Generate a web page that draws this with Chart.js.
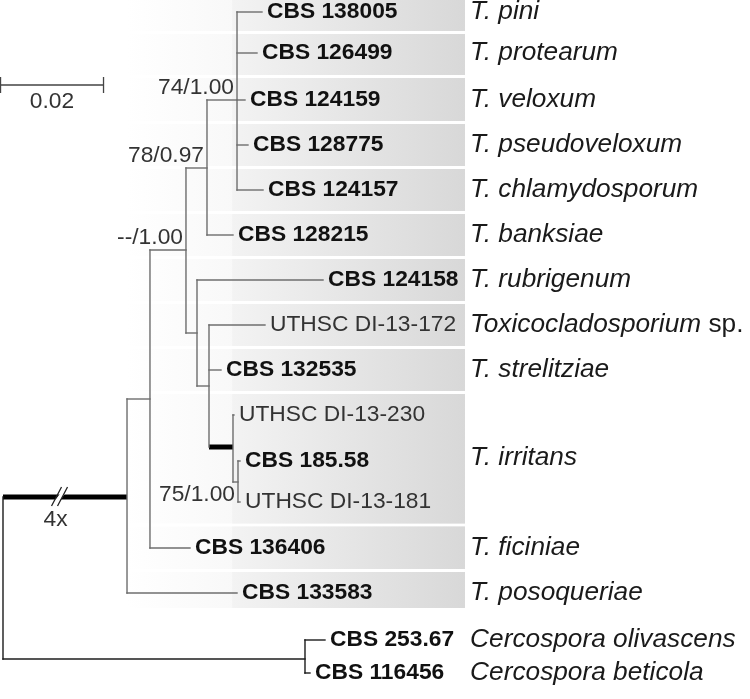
<!DOCTYPE html>
<html lang="en">
<head>
<meta charset="UTF-8">
<title>Toxicocladosporium phylogeny</title>
<script src="https://cdn.jsdelivr.net/npm/chart.js@4.4.1/dist/chart.umd.min.js"></script>
<style>
  html, body { margin: 0; padding: 0; background: #fff; }
  #wrap { width: 750px; height: 699px; }
</style>
</head>
<body>
<div id="wrap"><canvas id="tree" width="750" height="699"></canvas></div>
<script>
// internal nodes: x = distance from root (subst./site), y = row position
const nodeNames  = ['A', 'B', 'C', 'D', 'H', 'F', 'G', 'E', 'R', 'O', 'root'];
const nodeX      = [0.04544, 0.03961, 0.03553, 0.03767, 0.04000, 0.04466, 0.04563, 0.02854, 0.02408, 0.05864, 0];
const nodeY      = [100, 168, 250, 333, 386, 447, 482, 399, 497, 659, 578];
const nodeParent = ['B', 'C', 'E', 'C', 'D', 'H', 'F', 'R', 'root', 'root', null];

// terminal taxa
const tipLabels = ['CBS 138005', 'CBS 126499', 'CBS 124159', 'CBS 128775', 'CBS 124157', 'CBS 128215',
                   'CBS 124158', 'UTHSC DI-13-172', 'CBS 132535', 'UTHSC DI-13-230', 'CBS 185.58',
                   'UTHSC DI-13-181', 'CBS 136406', 'CBS 133583', 'CBS 253.67', 'CBS 116456'];
const tipX = [0.05029, 0.04932, 0.04699, 0.04757, 0.05049, 0.04466, 0.06214, 0.05087,
              0.04233, 0.04485, 0.04602, 0.04602, 0.03631, 0.04544, 0.06252, 0.05961];
const tipY = [12, 53, 100, 145, 190, 235, 280, 325, 370, 415, 461, 502, 548, 593, 640, 673];
const tipParent = ['A', 'A', 'A', 'A', 'A', 'B', 'D', 'H', 'H', 'F', 'G', 'G', 'E', 'R', 'O', 'O'];

// species names and the tips they cover
const speciesNames = ['T. pini', 'T. protearum', 'T. veloxum', 'T. pseudoveloxum', 'T. chlamydosporum',
                      'T. banksiae', 'T. rubrigenum', 'Toxicocladosporium', 'T. strelitziae', 'T. irritans',
                      'T. ficiniae', 'T. posoqueriae', 'Cercospora olivascens', 'Cercospora beticola'];
const speciesSuffix = ['', '', '', '', '', '', '', ' sp.', '', '', '', '', '', ''];
const speciesFirstTip = [0, 1, 2, 3, 4, 5, 6, 7, 8, 9, 12, 13, 14, 15];
const speciesLastTip  = [0, 1, 2, 3, 4, 5, 6, 7, 8, 11, 12, 13, 14, 15];
const ingroupSpecies = 12;

// support values (ML bootstrap / posterior probability)
const supportNode = ['A', 'B', 'C', 'G'];
const supportText = ['74/1.00', '78/0.97', '--/1.00', '75/1.00'];
const supportBelow = [false, false, false, true];

// thick branches and scale bar
const thickNodes = ['F', 'R'];
const scaleBarLength = 0.02;
const brokenBranch = 'R';
const brokenLabel = '4x';

const PX_PER_UNIT = 5150;
const xMin = -3 / PX_PER_UNIT;
const xMax = xMin + 750 / PX_PER_UNIT;

const FONT = "'Liberation Sans', Arial, sans-serif";
const LINE = '#6e6e6e';
const DARK = '#1c1c1c';
const SX = 1.06;

const idx = {};
nodeNames.forEach((n, i) => idx[n] = i);
const darkNodes = ['root', 'O'];

// build branch segments
const datasets = [];
function seg(x1, y1, x2, y2, color, width) {
    datasets.push({
        data: [{ x: x1, y: y1 }, { x: x2, y: y2 }],
        borderColor: color, borderWidth: width, showLine: true,
        pointRadius: 0, borderCapStyle: width > 2 ? 'butt' : 'square'
    });
}
// vertical lines at internal nodes
nodeNames.forEach((n, i) => {
    const ys = [];
    nodeParent.forEach((p, j) => { if (p === n) ys.push(nodeY[j]); });
    tipParent.forEach((p, j) => { if (p === n) ys.push(tipY[j]); });
    if (!ys.length) return;
    seg(nodeX[i], Math.min(...ys), nodeX[i], Math.max(...ys), darkNodes.includes(n) ? DARK : LINE, 1.4);
});
// horizontal lines for internal children
nodeNames.forEach((n, i) => {
    const p = nodeParent[i];
    if (!p) return;
    const thick = thickNodes.includes(n);
    const col = thick ? '#000' : (darkNodes.includes(p) ? DARK : LINE);
    seg(nodeX[idx[p]], nodeY[i], nodeX[i], nodeY[i], col, thick ? 5 : 1.4);
});
// horizontal lines for tips
tipLabels.forEach((t, j) => {
    const p = tipParent[j];
    seg(nodeX[idx[p]], tipY[j], tipX[j], tipY[j], darkNodes.includes(p) ? DARK : LINE, 1.4);
});

function stretchText(ctx, txt, x, y, font, align, sx, color) {
    ctx.save();
    ctx.translate(x, y);
    ctx.scale(sx, 1);
    ctx.font = font;
    ctx.fillStyle = color;
    ctx.textAlign = align;
    ctx.textBaseline = 'middle';
    ctx.fillText(txt, 0, 0);
    const w = ctx.measureText(txt).width * sx;
    ctx.restore();
    return w;
}

const treePlugin = {
    id: 'treePlugin',
    beforeDatasetsDraw(chart) {
        const ctx = chart.ctx, xs = chart.scales.x, ys = chart.scales.y;
        const boxLeft = xs.getPixelForValue(0.0241);
        const rowLeft = xs.getPixelForValue(0.0445);
        const boxRight = xs.getPixelForValue(0.0897);
        const lastY = ys.getPixelForValue(tipY[speciesLastTip[ingroupSpecies - 1]] + 15);
        // backdrop behind ingroup
        let g = ctx.createLinearGradient(boxLeft, 0, boxRight, 0);
        g.addColorStop(0, '#ffffff');
        g.addColorStop(1, '#eaeaea');
        ctx.fillStyle = g;
        ctx.fillRect(boxLeft, 0, boxRight - boxLeft, lastY);
        // species rows
        for (let i = 0; i < ingroupSpecies; i++) {
            const first = tipY[speciesFirstTip[i]], last = tipY[speciesLastTip[i]];
            const top = i === 0 ? 0 : (first + tipY[speciesLastTip[i - 1]]) / 2;
            const bot = i === ingroupSpecies - 1 ? last + 15 : (last + tipY[speciesFirstTip[i + 1]]) / 2;
            const y1 = ys.getPixelForValue(top) + (i === 0 ? 0 : 1.5);
            const y2 = ys.getPixelForValue(bot) - (i === ingroupSpecies - 1 ? 0 : 1.5);
            ctx.fillStyle = '#ffffff';
            ctx.fillRect(boxLeft, y2, boxRight - boxLeft, 3);
            g = ctx.createLinearGradient(rowLeft, 0, boxRight, 0);
            g.addColorStop(0, '#f3f3f3');
            g.addColorStop(1, '#d8d8d8');
            ctx.fillStyle = g;
            ctx.fillRect(rowLeft, y1, boxRight - rowLeft, y2 - y1);
        }
    },
    afterDatasetsDraw(chart) {
        const ctx = chart.ctx, xs = chart.scales.x, ys = chart.scales.y;
        const bold = 'bold 21.5px ' + FONT, normal = '21.5px ' + FONT, ital = 'italic 25px ' + FONT;
        // tip labels
        tipLabels.forEach((t, j) => {
            const isCbs = t.startsWith('CBS');
            stretchText(ctx, t, xs.getPixelForValue(tipX[j]) + 5, ys.getPixelForValue(tipY[j]),
                isCbs ? bold : normal, 'left', SX, isCbs ? '#111' : '#333');
        });
        // species names
        const spX = xs.getPixelForValue(0.0907);
        speciesNames.forEach((s, i) => {
            const y = ys.getPixelForValue((tipY[speciesFirstTip[i]] + tipY[speciesLastTip[i]]) / 2);
            const w = stretchText(ctx, s, spX, y, ital, 'left', 1.05, '#1a1a1a');
            if (speciesSuffix[i]) stretchText(ctx, speciesSuffix[i], spX + w, y, '25px ' + FONT, 'left', 1.05, '#1a1a1a');
        });
        // support values
        supportNode.forEach((n, k) => {
            const i = idx[n];
            const x = xs.getPixelForValue(nodeX[i]) - 3;
            const y = ys.getPixelForValue(nodeY[i]) + (supportBelow[k] ? 13 : -12);
            stretchText(ctx, supportText[k], x, y, normal, 'right', SX, '#333');
        });
        // broken branch mark
        const bi = idx[brokenBranch];
        const bx = xs.getPixelForValue(nodeX[bi] * 0.48);
        const by = ys.getPixelForValue(nodeY[bi]);
        ctx.save();
        ctx.fillStyle = '#fff';
        ctx.beginPath();
        ctx.moveTo(bx - 8, by + 4); ctx.lineTo(bx - 2, by - 4);
        ctx.lineTo(bx + 3, by - 4); ctx.lineTo(bx - 3, by + 4);
        ctx.closePath(); ctx.fill();
        ctx.strokeStyle = '#222'; ctx.lineWidth = 1.3;
        ctx.beginPath();
        ctx.moveTo(bx - 11, by + 9); ctx.lineTo(bx - 1, by - 10);
        ctx.moveTo(bx - 5, by + 9); ctx.lineTo(bx + 5, by - 10);
        ctx.stroke();
        ctx.restore();
        stretchText(ctx, brokenLabel, bx - 7, by + 23, normal, 'center', SX, '#333');
        // scale bar
        const s0 = xs.getPixelForValue(-0.00048), s1 = xs.getPixelForValue(-0.00048 + scaleBarLength);
        const sy = ys.getPixelForValue(85);
        ctx.save();
        ctx.strokeStyle = '#444'; ctx.lineWidth = 1.3;
        ctx.beginPath();
        ctx.moveTo(s0, sy); ctx.lineTo(s1, sy);
        ctx.moveTo(s0, sy - 8); ctx.lineTo(s0, sy + 8);
        ctx.moveTo(s1, sy - 8); ctx.lineTo(s1, sy + 8);
        ctx.stroke();
        ctx.restore();
        stretchText(ctx, String(scaleBarLength), (s0 + s1) / 2, sy + 17, normal, 'center', SX, '#333');
    }
};

new Chart(document.getElementById('tree'), {
    type: 'scatter',
    data: { datasets },
    options: {
        responsive: false,
        animation: false,
        layout: { padding: 0 },
        plugins: { legend: { display: false }, tooltip: { enabled: false } },
        scales: {
            x: { type: 'linear', display: false, min: xMin, max: xMax },
            y: { type: 'linear', display: false, min: 0, max: 699, reverse: true }
        }
    },
    plugins: [treePlugin]
});
</script>
</body>
</html>
